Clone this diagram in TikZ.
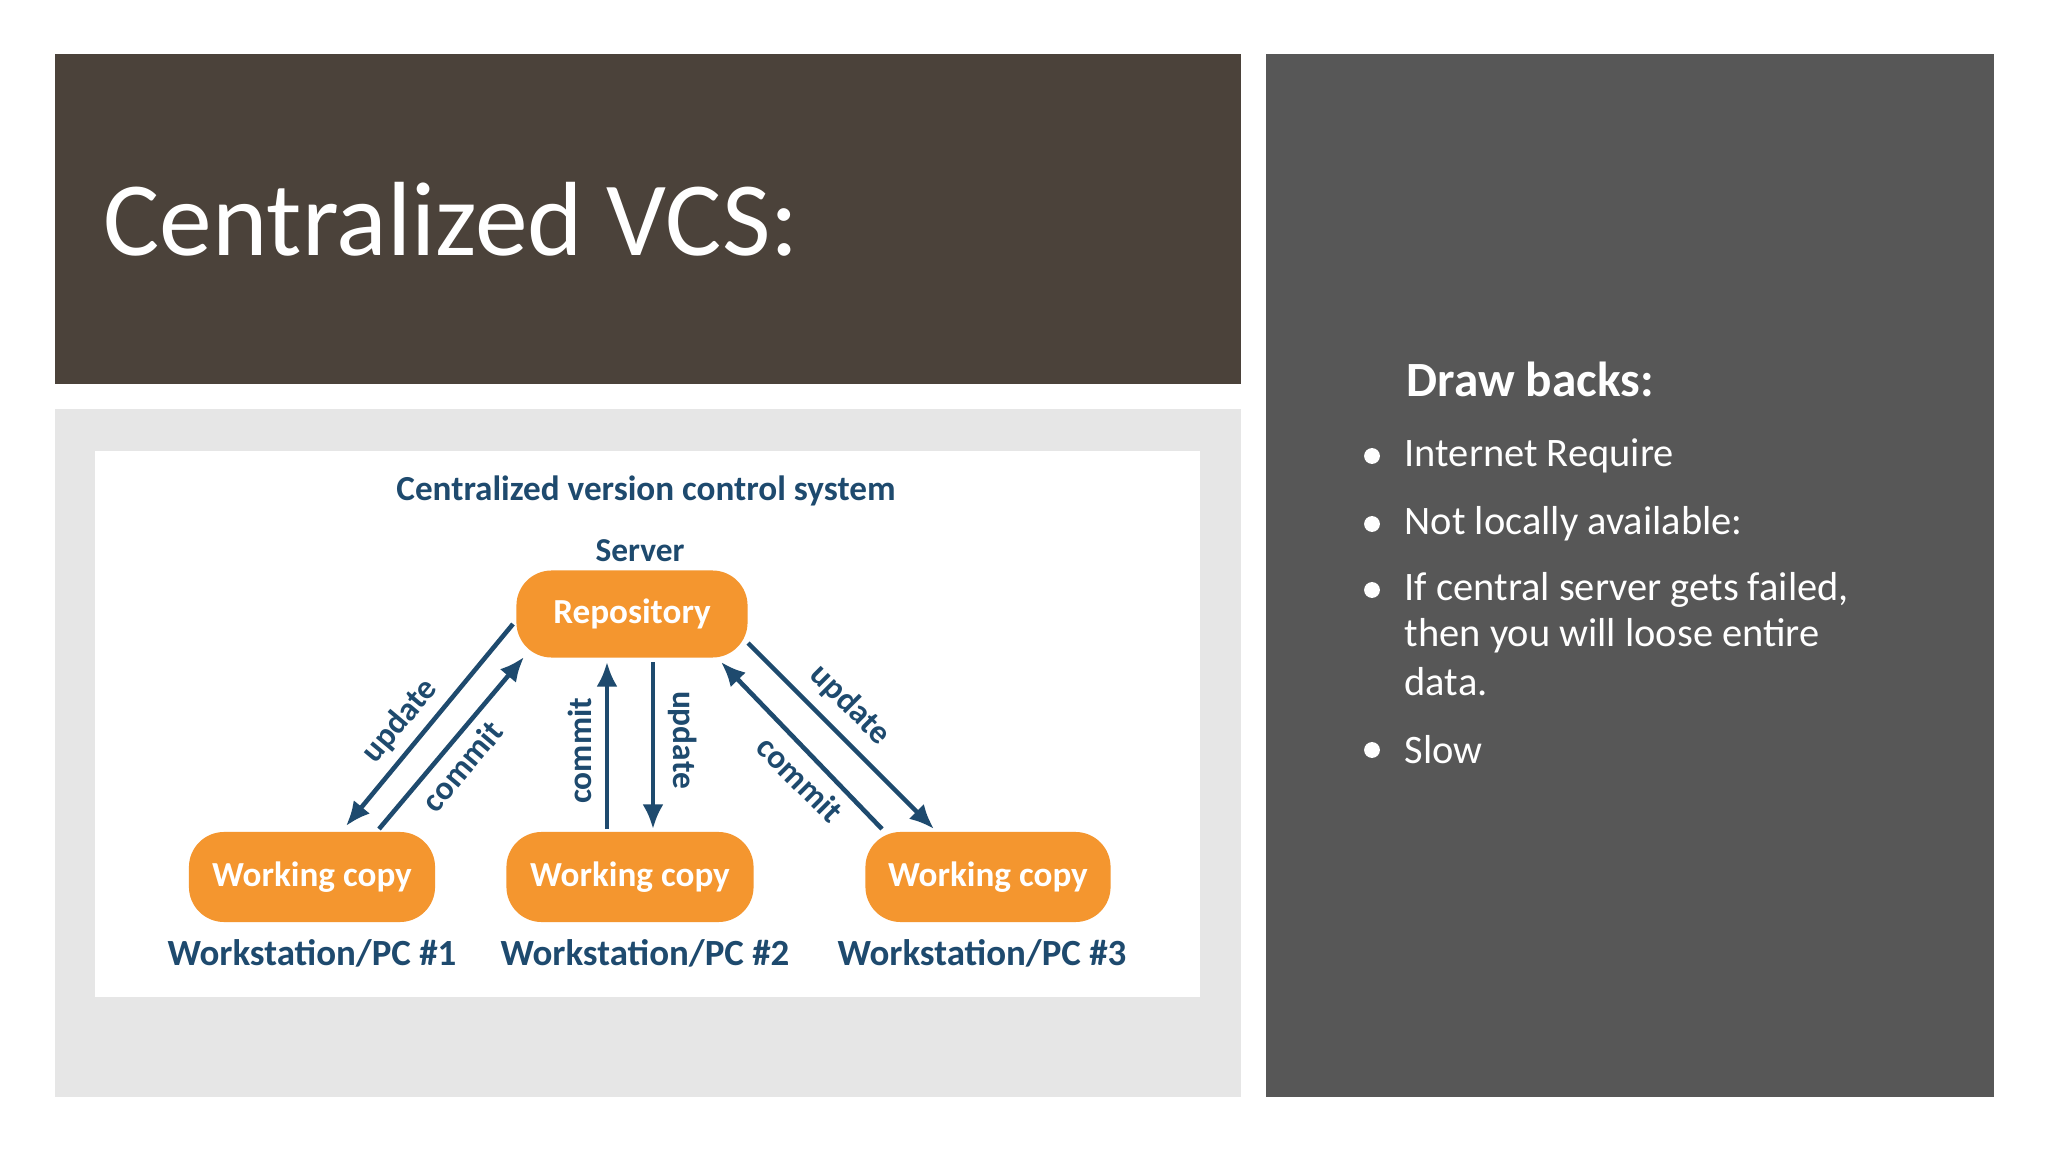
\documentclass[tikz,border=0pt]{standalone}
\usepackage{fontspec}
\setmainfont{Carlito}
\usetikzlibrary{arrows.meta}
\definecolor{titlebg}{HTML}{4B423A}
\definecolor{sidebg}{HTML}{575757}
\definecolor{lightbg}{HTML}{E6E6E6}
\definecolor{dblue}{HTML}{1E4A6E}
\definecolor{orng}{HTML}{F4962F}
\tikzset{
  obox/.style={draw=none,fill=orng,rounded corners=10pt,text=white,font=\bfseries\fontsize{10}{12}\selectfont},
  blab/.style={text=dblue,font=\bfseries\fontsize{9.5}{11}\selectfont},
  arr/.style={draw=dblue,line width=1.3pt,-{Latex[length=7pt,width=6pt]}},
  bul/.style={text=white,font=\fontsize{11.5}{13}\selectfont,anchor=west,inner sep=0pt},
  dot/.style={circle,fill=white,inner sep=0pt,minimum size=4.5pt}
}
\begin{document}
\begin{tikzpicture}[x=0.01cm,y=-0.01cm]
\useasboundingbox (0,0) rectangle (2048,1152);
\fill[white] (0,0) rectangle (2048,1152);
\fill[titlebg] (55,54) rectangle (1241,384);
\fill[sidebg] (1266,54) rectangle (1994,1097);
\fill[lightbg] (55,409) rectangle (1241,1097);
\fill[white] (95,451) rectangle (1200,997);
\node[anchor=west,text=white,font=\fontsize{30}{34}\selectfont,inner sep=0pt] (title) at (103,219) {Centralized VCS:};
% side
\node[anchor=west,text=white,font=\bfseries\fontsize{14}{16}\selectfont,inner sep=0pt] (db) at (1406,379) {Draw backs:};
\foreach \y/\t [count=\i] in {456/{Internet Require},524/{Not locally available:},590/{If central server gets failed,},636/{then you will loose entire},682/{data.},750/{Slow}}{
  \node[bul] (b\i) at (1404,\y) {\t};}
\foreach \y [count=\i] in {456,524,590,750}{\node[dot] (d\i) at (1372,\y) {};}
% diagram
\node[blab,font=\bfseries\fontsize{10}{12}\selectfont] (dt) at (646,491) {Centralized version control system};
\node[blab] (srv) at (640,551) {Server};
\node[obox,minimum width=2.31cm,minimum height=0.87cm] (repo) at (632,614) {Repository};
\node[obox,minimum width=2.46cm,minimum height=0.9cm] (w1) at (312,877) {Working copy};
\node[obox,minimum width=2.47cm,minimum height=0.9cm] (w2) at (630,877) {Working copy};
\node[obox,minimum width=2.45cm,minimum height=0.9cm] (w3) at (988,877) {Working copy};
\node[blab,font=\bfseries\fontsize{10.5}{12}\selectfont] (l1) at (312,953) {Workstation/PC \#1};
\node[blab,font=\bfseries\fontsize{10.5}{12}\selectfont] (l2) at (645,953) {Workstation/PC \#2};
\node[blab,font=\bfseries\fontsize{10.5}{12}\selectfont] (l3) at (982,953) {Workstation/PC \#3};
\coordinate (a1s) at (513,624); \coordinate (a1e) at (346,826);
\coordinate (c1s) at (379,829); \coordinate (c1e) at (524,657);
\coordinate (c2s) at (607,829); \coordinate (c2e) at (607,662);
\coordinate (u2s) at (653,662); \coordinate (u2e) at (653,829);
\coordinate (c3s) at (882,829); \coordinate (c3e) at (721,662);
\coordinate (u3s) at (748,643); \coordinate (u3e) at (934,829);
\draw[arr] (a1s) -- (a1e);
\draw[arr] (c1s) -- (c1e);
\draw[arr] (c2s) -- (c2e);
\draw[arr] (u2s) -- (u2e);
\draw[arr] (c3s) -- (c3e);
\draw[arr] (u3s) -- (u3e);
\node[blab,rotate=50] (t1) at (400,721) {update};
\node[blab,rotate=50] (t2) at (462,766) {commit};
\node[blab,rotate=90] (t3) at (580,751) {commit};
\node[blab,rotate=-90] (t4) at (683,740) {update};
\node[blab,rotate=-45] (t5) at (850,705) {update};
\node[blab,rotate=-45] (t6) at (800,779) {commit};
\end{tikzpicture}
\end{document}
